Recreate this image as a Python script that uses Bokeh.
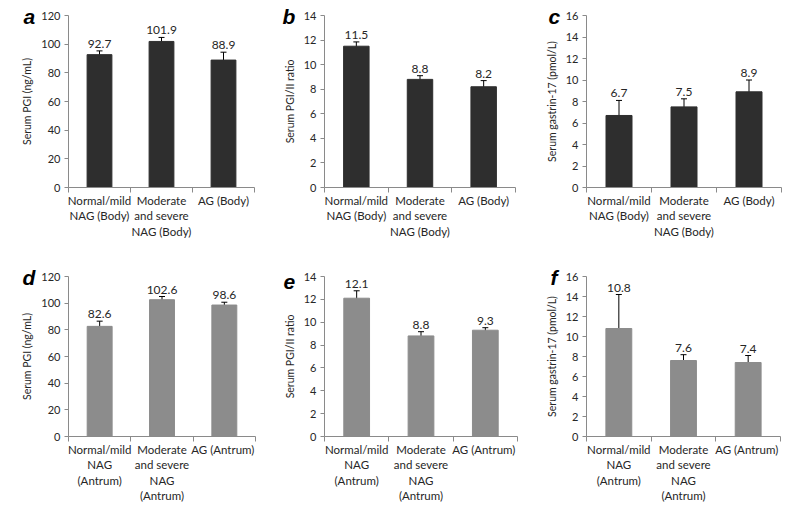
from bokeh.plotting import figure
from bokeh.layouts import gridplot
from bokeh.models import (ColumnDataSource, Range1d, FixedTicker, Whisker, TeeHead)
from bokeh.core.properties import value
from bokeh.embed import file_html
from bokeh.resources import INLINE

# ---------------- data ----------------
cats_body = ["Normal/mild\nNAG (Body)", "Moderate\nand severe\nNAG (Body)", "AG (Body)"]
cats_antrum = ["Normal/mild\nNAG\n(Antrum)", "Moderate\nand severe\nNAG\n(Antrum)", "AG  (Antrum)"]

pgi_body = [92.7, 101.9, 88.9]
pgi_body_err = [2.6, 2.8, 5.5]
ratio_body = [11.5, 8.8, 8.2]
ratio_body_err = [0.35, 0.3, 0.5]
g17_body = [6.7, 7.5, 8.9]
g17_body_err = [1.4, 0.75, 1.1]

pgi_antrum = [82.6, 102.6, 98.6]
pgi_antrum_err = [3.9, 2.4, 2.1]
ratio_antrum = [12.1, 8.8, 9.3]
ratio_antrum_err = [0.65, 0.37, 0.22]
g17_antrum = [10.8, 7.6, 7.4]
g17_antrum_err = [3.4, 0.58, 0.7]

y_titles = ["Serum PGI (ng/mL)", "Serum PGI/II ratio", "Serum gastrin-17 (pmol/L)"]
y_max = [120, 14, 16]
y_step = [20, 2, 2]
letters = ["a", "b", "c", "d", "e", "f"]

DARK = "#2e2e2e"
LIGHT = "#8c8c8c"
AXIS = "#8a8a8a"
TXT = "#262626"
FONT = "Lato"


def panel(cats, vals, errs, col, ymax, ystep, ytitle, letter,
          fw, fh, bl, br, bt, bb, loff):
    p = figure(frame_width=fw, frame_height=fh,
               min_border_left=bl, min_border_right=br,
               min_border_top=bt, min_border_bottom=bb,
               x_range=Range1d(0, len(cats)), y_range=Range1d(0, ymax),
               output_backend="svg", toolbar_location=None,
               background_fill_color="white", border_fill_color="white")
    p.outline_line_color = None
    p.grid.grid_line_color = None

    xs = [i + 0.5 for i in range(len(cats))]
    src = ColumnDataSource(dict(
        x=xs, top=vals,
        upper=[v + e for v, e in zip(vals, errs)],
        lower=[v - e for v, e in zip(vals, errs)],
        label=[f"{v:.1f}" for v in vals]))
    p.vbar(x="x", top="top", width=0.4, source=src, fill_color=col,
           line_color=col)
    w = Whisker(base="x", upper="upper", lower="lower", source=src,
                line_color="black", line_width=1,
                upper_head=TeeHead(size=6, line_color="black", line_width=1),
                lower_head=TeeHead(size=6, line_color="black", line_width=1))
    p.add_layout(w)
    p.text(x="x", y="upper", text="label", source=src, text_align="center",
           text_baseline="bottom", y_offset=-3, text_color=TXT,
           text_font=value(FONT), text_font_size="12px")

    # x axis
    xa = p.xaxis[0]
    xa.ticker = FixedTicker(ticks=xs, minor_ticks=list(range(len(cats) + 1)))
    xa.major_label_overrides = {x: c for x, c in zip(xs, cats)}
    xa.major_tick_line_color = None
    xa.major_tick_out = 0
    xa.major_tick_in = 0
    xa.minor_tick_line_color = AXIS
    xa.minor_tick_out = 5
    xa.minor_tick_in = 0
    xa.axis_line_color = AXIS
    xa.major_label_text_font = FONT
    xa.major_label_text_font_size = "11.5px"
    xa.major_label_text_color = TXT
    xa.major_label_standoff = 1

    # y axis
    ya = p.yaxis[0]
    ya.ticker = FixedTicker(ticks=list(range(0, ymax + 1, ystep)))
    ya.axis_line_color = AXIS
    ya.major_tick_line_color = AXIS
    ya.major_tick_out = 4
    ya.major_tick_in = 0
    ya.minor_tick_line_color = None
    ya.major_label_text_font = FONT
    ya.major_label_text_font_size = "11px"
    ya.major_label_text_color = TXT
    ya.major_label_standoff = 4
    ya.axis_label = ytitle
    ya.axis_label_text_font = FONT
    ya.axis_label_text_font_size = "10.5px"
    ya.axis_label_text_font_style = "normal"
    ya.axis_label_text_color = TXT
    ya.axis_label_standoff = 5

    # panel letter as a title pulled down beside the top of the y axis
    t = p.title
    t.text = letter
    t.align = "left"
    t.vertical_align = "bottom"
    t.offset = loff
    t.standoff = -24
    t.text_font = "Liberation Sans"
    t.text_font_style = "bold italic"
    t.text_font_size = "21px"
    t.text_color = "black"
    return p


row1 = [
    panel(cats_body, pgi_body, pgi_body_err, DARK, y_max[0], y_step[0], y_titles[0], letters[0],
          186, 172, 67, 17, 15, 69, -45),
    panel(cats_body, ratio_body, ratio_body_err, DARK, y_max[1], y_step[1], y_titles[1], letters[1],
          191, 172, 54, 17, 15, 69, -42),
    panel(cats_body, g17_body, g17_body_err, DARK, y_max[2], y_step[2], y_titles[2], letters[2],
          195, 172, 53, 12, 15, 69, -38),
]
row2 = [
    panel(cats_antrum, pgi_antrum, pgi_antrum_err, LIGHT, y_max[0], y_step[0], y_titles[0], letters[3],
          187, 160, 68, 15, 20, 63, -46),
    panel(cats_antrum, ratio_antrum, ratio_antrum_err, LIGHT, y_max[1], y_step[1], y_titles[1], letters[4],
          193, 160, 54, 15, 20, 63, -41),
    panel(cats_antrum, g17_antrum, g17_antrum_err, LIGHT, y_max[2], y_step[2], y_titles[2], letters[5],
          194, 160, 54, 12, 20, 63, -36),
]

grid = gridplot([row1, row2], toolbar_location=None)

open("out.html", "w").write(file_html(grid, INLINE))
